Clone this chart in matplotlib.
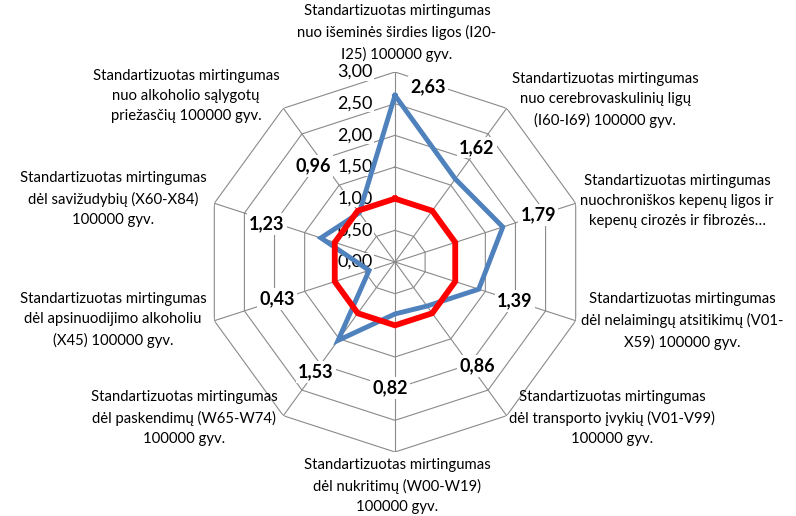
import numpy as np
import matplotlib
matplotlib.use("Agg")
import matplotlib.pyplot as plt

plt.rcParams['font.family'] = ['Lato', 'DejaVu Sans']

categories = [
    "Standartizuotas mirtingumas\nnuo išeminės širdies ligos (I20-\nI25) 100000 gyv.",
    "Standartizuotas mirtingumas\nnuo cerebrovaskulinių ligų\n(I60-I69) 100000 gyv.",
    "Standartizuotas mirtingumas\nnuochroniškos kepenų ligos ir\nkepenų cirozės ir fibrozės…",
    "Standartizuotas mirtingumas\ndėl nelaimingų atsitikimų (V01-\nX59) 100000 gyv.",
    "Standartizuotas mirtingumas\ndėl transporto įvykių (V01-V99)\n100000 gyv.",
    "Standartizuotas mirtingumas\ndėl nukritimų (W00-W19)\n100000 gyv.",
    "Standartizuotas mirtingumas\ndėl paskendimų (W65-W74)\n100000 gyv.",
    "Standartizuotas mirtingumas\ndėl apsinuodijimo alkoholiu\n(X45) 100000 gyv.",
    "Standartizuotas mirtingumas\ndėl savižudybių (X60-X84)\n100000 gyv.",
    "Standartizuotas mirtingumas\nnuo alkoholio sąlygotų\npriežasčių 100000 gyv.",
]
series_blue = [2.63, 1.62, 1.79, 1.39, 0.86, 0.82, 1.53, 0.43, 1.23, 0.96]
series_red = [1.0] * 10
radial_ticks = [0.0, 0.5, 1.0, 1.5, 2.0, 2.5, 3.0]
radial_tick_labels = ["0,00", "0,50", "1,00", "1,50", "2,00", "2,50", "3,00"]

# label placement (layout only): category label centres in pixels,
# value label positions as (angle in degrees, radius in data units)
cat_label_px = [(397, 33), (605, 100), (677, 201), (682, 321), (612, 418),
                (397, 486), (184, 418), (113, 320), (113, 199), (186, 96)]
value_label_pos = [(10.7, 2.81), (35.7, 2.22), (71.8, 2.38), (108.0, 1.99),
                   (141.7, 2.09), (182.3, 1.99), (215.7, 2.14), (252.6, 1.95),
                   (286.5, 2.11), (319.5, 1.99)]

W, H = 796, 516
fig = plt.figure(figsize=(W / 100, H / 100), dpi=100)
cx, cy, R = 395, 262, 190
ax = fig.add_axes([(cx - R) / W, 1 - (cy + R) / H, 2 * R / W, 2 * R / H], projection='polar')
ax.set_theta_zero_location('N')
ax.set_theta_direction(-1)
ax.set_ylim(0, radial_ticks[-1])
ax.axis('off')

n = len(categories)
theta = np.linspace(0, 2 * np.pi, n, endpoint=False)
theta_c = np.append(theta, theta[0])

grid_color = '#8a8a8a'
for t in radial_ticks[1:]:
    ax.plot(theta_c, [t] * (n + 1), color=grid_color, lw=0.8, zorder=1)
for th in theta:
    ax.plot([th, th], [0, radial_ticks[-1]], color=grid_color, lw=0.8, zorder=1)

blue = list(series_blue) + [series_blue[0]]
red = list(series_red) + [series_red[0]]
ax.plot(theta_c, blue, color='#4F81BD', lw=3.5, zorder=3, solid_joinstyle='miter')
ax.plot(theta_c, red, color='#FF0000', lw=4.2, zorder=4, solid_joinstyle='miter')

for v, lab in zip(radial_ticks, radial_tick_labels):
    ax.annotate(lab, xy=(0, v), xytext=(-16, 0), textcoords='offset points',
                ha='right', va='center', fontsize=13, color='#000000', zorder=2,
                bbox=dict(facecolor='white', edgecolor='none', pad=0.5),
                annotation_clip=False)

for i, v in enumerate(series_blue):
    lab = f"{v:.2f}".replace('.', ',')
    ang, r = value_label_pos[i]
    ax.text(np.deg2rad(ang), r, lab, ha='center', va='center', fontsize=13,
            fontweight='bold', zorder=6, clip_on=False,
            bbox=dict(facecolor='white', edgecolor='none', pad=1.5))

for lab, (px, py) in zip(categories, cat_label_px):
    fig.text(px / W, 1 - py / H, lab, ha='center', va='center', fontsize=10.7,
             linespacing=1.55, color='#000000')

fig.savefig('out.png', dpi=100, facecolor='white')
